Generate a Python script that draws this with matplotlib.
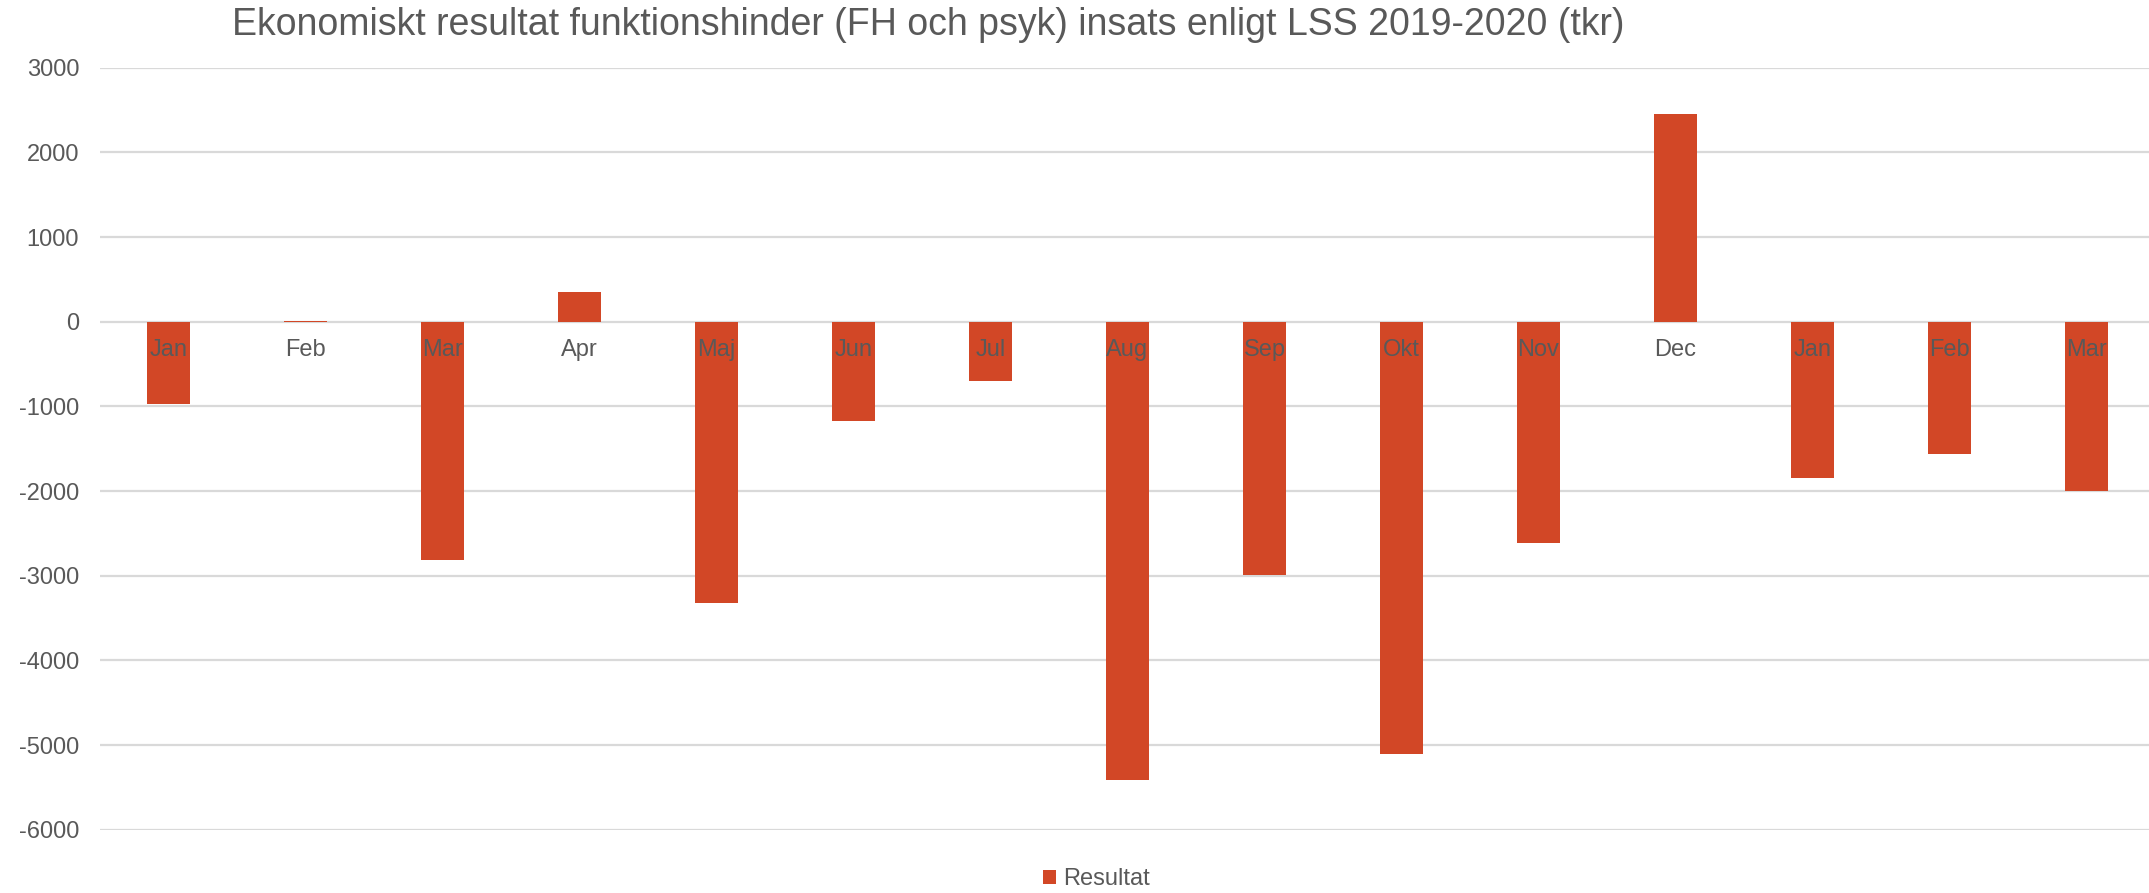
import numpy as np
import matplotlib
matplotlib.use("Agg")
import matplotlib.pyplot as plt

# months, Jan 2019 - Mar 2020
months = ["Jan", "Feb", "Mar", "Apr", "Maj", "Jun", "Jul", "Aug", "Sep", "Okt",
          "Nov", "Dec", "Jan", "Feb", "Mar"]
resultat = [-975, 8, -2813, 347, -3325, -1172, -704, -5411, -2987, -5100,
            -2617, 2456, -1842, -1566, -2000]
yticks = [3000, 2000, 1000, 0, -1000, -2000, -3000, -4000, -5000, -6000]

bar_color = "#D24726"
text_color = "#595959"
grid_color = "#D9D9D9"

plt.rcParams["font.family"] = ["Liberation Sans", "DejaVu Sans"]

fig = plt.figure(figsize=(21.49, 8.93), dpi=100)
ax = fig.add_axes([100 / 2149, 1 - 829.7 / 893, 1 - 100 / 2149, (829.7 - 67.7) / 893])

x = np.arange(len(months))
ax.bar(x, resultat, width=0.314, color=bar_color, label="Resultat", zorder=2)

ax.set_ylim(-6000, 3000)
ax.set_xlim(-0.5, 14.456)
ax.set_yticks(yticks)
ax.set_yticklabels([str(v) for v in yticks], fontsize=17, color=text_color)
ax.tick_params(axis="y", length=0, pad=15)
ax.set_xticks([])
ax.yaxis.grid(True, color=grid_color, linewidth=1.6, zorder=0)
ax.set_axisbelow(True)
for s in ax.spines.values():
    s.set_visible(False)

# category labels next to the zero line, drawn on top of the bars
for i, m in enumerate(months):
    ax.annotate(m, (i, 0), xytext=(0, -20.4), textcoords="offset points",
                ha="center", va="center", fontsize=17, color=text_color, zorder=3)

fig.text(0.432, 1 - 25 / 893, "Ekonomiskt resultat funktionshinder (FH och psyk) insats enligt LSS 2019-2020 (tkr)",
         ha="center", va="center", fontsize=27, color=text_color)

leg = fig.legend(loc="center", bbox_to_anchor=(0.51, 1 - 879 / 893), frameon=False,
                 fontsize=17, handlelength=0.55, handleheight=0.55, handletextpad=0.3)
for t in leg.get_texts():
    t.set_color(text_color)

fig.savefig("out.png", dpi=100)
